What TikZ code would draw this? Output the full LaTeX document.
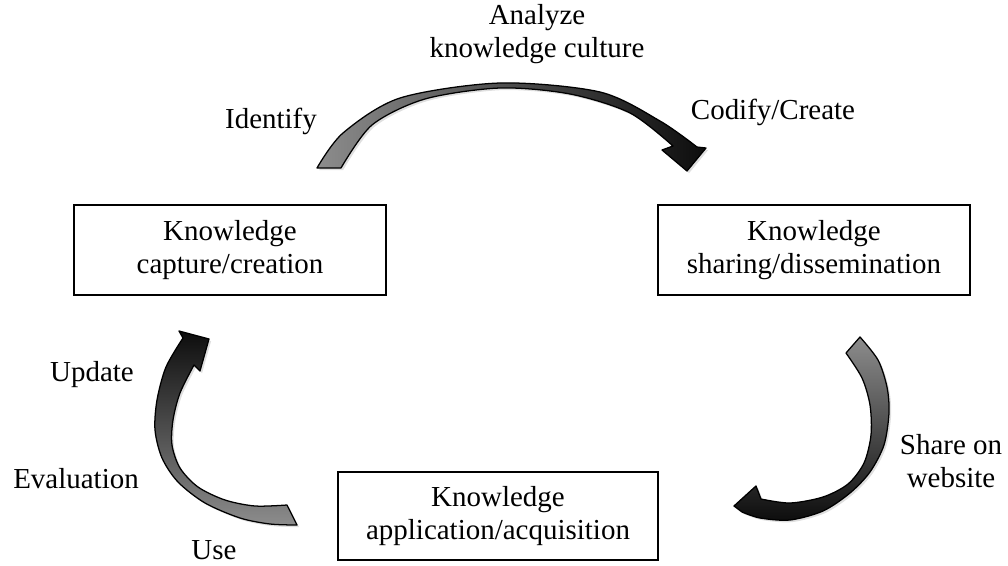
\documentclass[tikz,border=0pt]{standalone}
\usepackage{fontspec}
\setmainfont{Liberation Serif}
\usetikzlibrary{shadows}

\begin{document}
\begin{tikzpicture}[
            x = 0.025cm, % one pixel of the original
            y = -0.025cm, % y runs downwards
            font = \fontsize{20.6}{23.5}\selectfont, % text size
            box/.style = {shape=rectangle, draw=black, line width=1.2pt, align=center, minimum height=2.25cm},
            lbl/.style = {align=center},
            band/.style = {draw=black, line width=0.9pt, line join=round,
                drop shadow={opacity=0.25, shadow xshift=1.5pt, shadow yshift=-1.5pt}}
        ]
\useasboundingbox (0,0) rectangle (1008,566);

% the three stages
\node[box, minimum width=7.8cm] (capture) at (230,250) {Knowledge\\capture/creation};
\node[box, minimum width=7.8cm] (sharing) at (814,250) {Knowledge\\sharing/dissemination};
\node[box, minimum width=8cm, minimum height=2.2cm] (application) at (498,516) {Knowledge\\application/acquisition};

% labels round the cycle
\node[lbl] (analyze) at (537,34) {Analyze\\knowledge culture};
\node (identify) at (271,121) {Identify};
\node (codify) at (773,112) {Codify/Create};
\node[lbl] (share) at (951,461) {Share on\\website};
\node (update) at (92,375) {Update};
\node (evaluation) at (76,479) {Evaluation};
\node (use) at (214,550) {Use};

% curved block arrows
\path[band, left color=black!45, middle color=black!65, right color=black!95]
  plot[smooth] coordinates {(317,168) (343,133) (400,98) (500,83) (600,92) (660,121) (697,147)}
  -- (706,148) -- (687,171) -- (662,150) -- (673,146)
  -- plot[smooth] coordinates {(673,146) (630,113) (570,94) (500,88) (425,99) (372,125) (341,168)}
  -- cycle;

\path[band, top color=black!45, bottom color=black!95]
  plot[smooth] coordinates {(860,337) (878,360) (887,387) (889,413) (884,445) (870,472) (850,493) (823,511) (790,520) (760,518) (742,512)}
  -- (734,506) -- (756,486) -- (761,499)
  -- plot[smooth] coordinates {(761,499) (790,503) (823,497) (848,484) (864,463) (871,435) (870,405) (862,378) (846,353)}
  -- cycle;

\path[band, top color=black!95, bottom color=black!45]
  plot[smooth] coordinates {(297,525) (270,524) (240,518) (205,503) (178,482) (162,458) (155,430) (157,400) (166,367) (183,338)}
  -- (179,331) -- (209,339) -- (200,371) -- (194,365)
  -- plot[smooth] coordinates {(194,365) (180,393) (173,420) (172,445) (180,468) (198,487) (225,500) (255,506) (287,505)}
  -- cycle;
\end{tikzpicture}
\end{document}
